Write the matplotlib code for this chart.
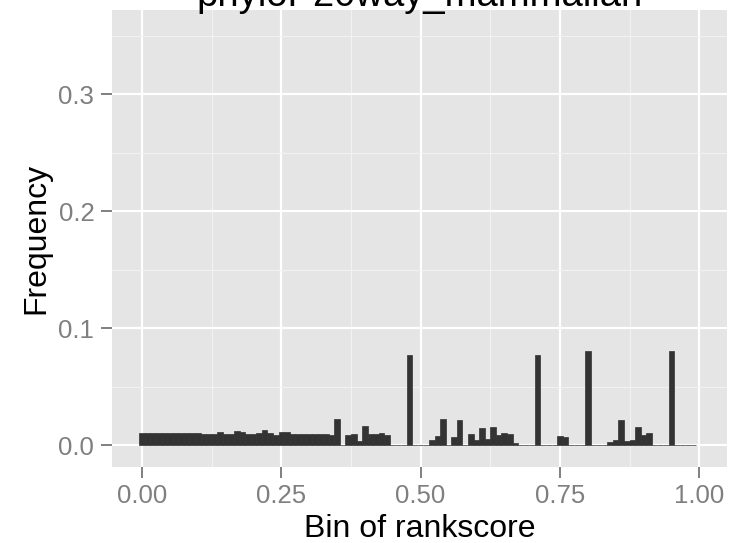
import matplotlib.pyplot as plt
import numpy as np

# histogram of rankscore, 100 bins of width 0.01 (centres 0.00 .. 0.99)
bin_centers = np.round(np.arange(100) * 0.01, 2)
frequency = [
    0.0104, 0.0104, 0.0104, 0.0104, 0.0104, 0.0104, 0.0104, 0.0104, 0.0104, 0.0104,
    0.0104, 0.0096, 0.0096, 0.0096, 0.0109, 0.0096, 0.0096, 0.0118, 0.0109, 0.0096,
    0.0096, 0.0104, 0.0126, 0.0100, 0.0090, 0.0109, 0.0109, 0.0098, 0.0098, 0.0098,
    0.0098, 0.0098, 0.0098, 0.0098, 0.0083, 0.0226, 0.0, 0.0090, 0.0098, 0.0033,
    0.0167, 0.0098, 0.0098, 0.0107, 0.0090, 0.0, 0.0, 0.0, 0.0774, 0.0,
    0.0, 0.0, 0.0041, 0.0081, 0.0226, 0.0, 0.0073, 0.0218, 0.0, 0.0098,
    0.0047, 0.0150, 0.0056, 0.0158, 0.0090, 0.0107, 0.0098, 0.0021, 0.0, 0.0,
    0.0, 0.0773, 0.0, 0.0, 0.0, 0.0081, 0.0073, 0.0, 0.0, 0.0,
    0.0808, 0.0, 0.0, 0.0, 0.0030, 0.0047, 0.0218, 0.0038, 0.0047, 0.0158,
    0.0090, 0.0107, 0.0, 0.0, 0.0, 0.0808, 0.0, 0.0, 0.0, 0.0,
]
x_ticks = [0.0, 0.25, 0.5, 0.75, 1.0]
x_tick_labels = ["0.00", "0.25", "0.50", "0.75", "1.00"]
y_ticks = [0.0, 0.1, 0.2, 0.3]
y_tick_labels = ["0.0", "0.1", "0.2", "0.3"]

plt.rcParams['font.family'] = ['Liberation Sans', 'DejaVu Sans']

fig = plt.figure(figsize=(7.29, 5.43), dpi=100)
ax = fig.add_axes([112 / 729, (543 - 466.7) / 543, 615 / 729, 456.7 / 543])

# ggplot2 grey theme
ax.set_facecolor('#E5E5E5')
for s in ax.spines.values():
    s.set_visible(False)
ax.set_axisbelow(True)

ax.bar(bin_centers, frequency, width=0.01, color='#333333',
       edgecolor='#333333', linewidth=0.5)

ax.set_xlim(-0.0539, 1.050)
ax.set_ylim(-0.0184, 0.372)

ax.set_xticks(x_ticks)
ax.set_xticklabels(x_tick_labels)
ax.set_yticks(y_ticks)
ax.set_yticklabels(y_tick_labels)
ax.set_xticks([0.125, 0.375, 0.625, 0.875], minor=True)
ax.set_yticks([0.05, 0.15, 0.25, 0.35], minor=True)

ax.grid(True, which='major', color='white', linewidth=1.6)
ax.grid(True, which='minor', color='#F2F2F2', linewidth=0.8)
ax.tick_params(which='major', length=7.7, width=1.4, color='#7F7F7F',
               labelcolor='#7F7F7F', labelsize=18.5, pad=5)
ax.tick_params(which='minor', length=0)

ax.set_xlabel("Bin of rankscore", fontsize=23, labelpad=4)
ax.set_ylabel("Frequency", fontsize=23, labelpad=5)

fig.text(419.5 / 729, (543 - 6.5) / 543, "phyloP20way_mammalian",
         fontsize=27.5, ha='center', va='baseline')

fig.savefig("out.png", dpi=100)
